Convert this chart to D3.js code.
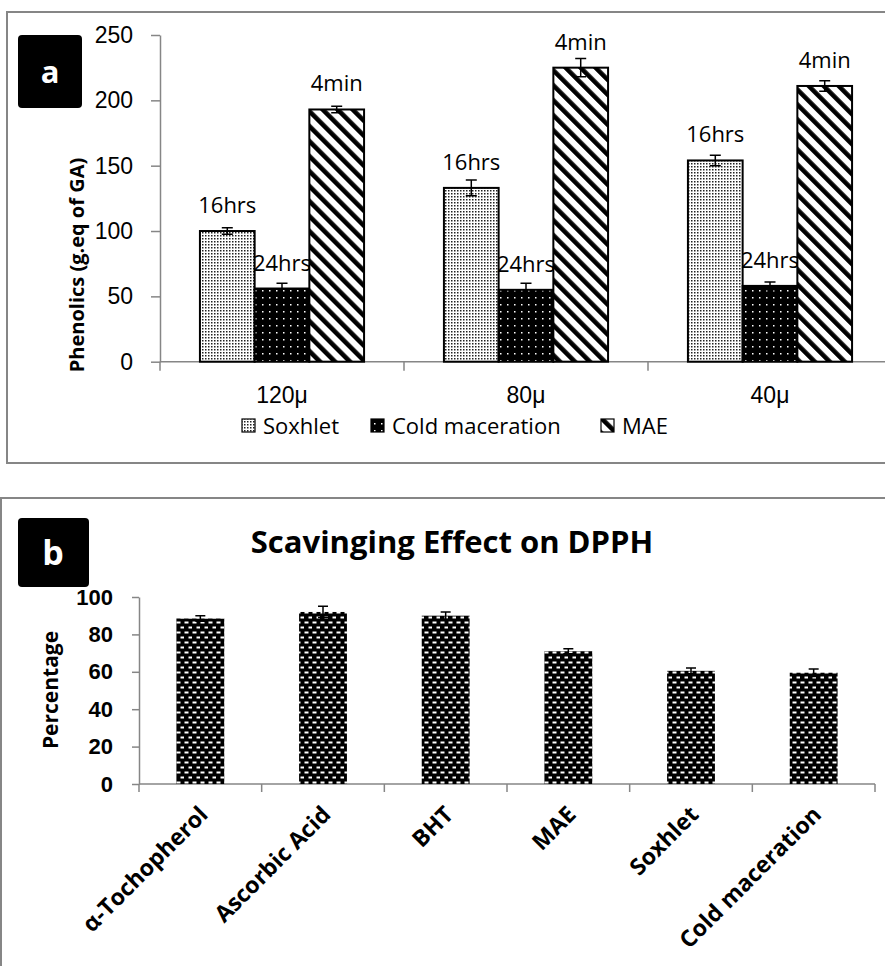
<!DOCTYPE html>
<html>
<head>
<meta charset="utf-8">
<script src="https://cdn.jsdelivr.net/npm/d3@7"></script>
<style>
  body { margin: 0; background: #fff; }
  svg { display: block; font-family: "Open Sans", sans-serif; }
  .axis path, .axis line { stroke: #868686; stroke-width: 1.5; }
  .axis text { fill: #000; }
</style>
</head>
<body>
<div id="chart"></div>
<script>
// panel a data
const sizes = ["120μ", "80μ", "40μ"];
const methods = ["Soxhlet", "Cold maceration", "MAE"];
const durations = ["16hrs", "24hrs", "4min"];
const soxhlet = [100, 133, 154];
const soxhletErr = [2.5, 6, 4];
const cold = [56, 55, 58];
const coldErr = [4, 5, 3];
const mae = [193, 225, 211];
const maeErr = [2.5, 7, 4];
const ticksA = [0, 50, 100, 150, 200, 250];

// panel b data
const agents = ["α-Tochopherol", "Ascorbic Acid", "BHT", "MAE", "Soxhlet", "Cold maceration"];
const scavenging = [88.5, 92, 90, 71, 60.5, 59.5];
const scavErr = [1.5, 3, 2, 1.3, 1.5, 2];
const ticksB = [0, 20, 40, 60, 80, 100];

const width = 885, height = 966;

const svg = d3.select("#chart").append("svg")
    .attr("width", width)
    .attr("height", height);

/* patterns */
const defs = svg.append("defs");

let p = defs.append("pattern").attr("id", "pSox")
    .attr("patternUnits", "userSpaceOnUse").attr("width", 3).attr("height", 3);
p.append("rect").attr("width", 3).attr("height", 3).attr("fill", "#fff");
p.append("rect").attr("x", 1).attr("y", 1).attr("width", 1.5).attr("height", 1.5).attr("fill", "#222");

p = defs.append("pattern").attr("id", "pCold")
    .attr("patternUnits", "userSpaceOnUse").attr("width", 7).attr("height", 7);
p.append("rect").attr("width", 7).attr("height", 7).attr("fill", "#000");
p.append("rect").attr("x", 3).attr("y", 3).attr("width", 1.5).attr("height", 1.5).attr("fill", "#fff");

p = defs.append("pattern").attr("id", "pMae")
    .attr("patternUnits", "userSpaceOnUse").attr("width", 10.6).attr("height", 10.6)
    .attr("patternTransform", "rotate(-45)");
p.append("rect").attr("width", 10.6).attr("height", 10.6).attr("fill", "#fff");
p.append("rect").attr("width", 4.6).attr("height", 10.6).attr("fill", "#000");

p = defs.append("pattern").attr("id", "pBrick")
    .attr("patternUnits", "userSpaceOnUse").attr("width", 8).attr("height", 10);
p.append("rect").attr("width", 8).attr("height", 10).attr("fill", "#000");
p.append("rect").attr("x", 0.5).attr("y", 1.5).attr("width", 4).attr("height", 2).attr("fill", "#fff");
p.append("rect").attr("x", 4.5).attr("y", 6.5).attr("width", 4).attr("height", 2).attr("fill", "#fff");

const fills = ["url(#pSox)", "url(#pCold)", "url(#pMae)"];

/* ---------- panel a ---------- */
svg.append("rect")
    .attr("x", 7).attr("y", 12).attr("width", 900).attr("height", 451)
    .attr("fill", "none").attr("stroke", "#868686").attr("stroke-width", 2);

svg.append("rect")
    .attr("x", 18).attr("y", 35).attr("width", 64).attr("height", 73).attr("rx", 4)
    .attr("fill", "#000");
svg.append("text")
    .attr("x", 50).attr("y", 83)
    .attr("text-anchor", "middle")
    .attr("font-size", 31).attr("font-weight", "bold").attr("fill", "#fff")
    .text("a");

const x0 = d3.scaleBand().domain(sizes).range([160, 892]).paddingInner(0).paddingOuter(0);
const x1 = d3.scaleBand().domain(methods).range([0, x0.bandwidth()]).paddingInner(0).paddingOuter(0.73);
const yA = d3.scaleLinear().domain([0, 250]).range([361.7, 35]);

// y axis
svg.append("g")
    .attr("class", "axis")
    .attr("transform", "translate(160,0)")
    .call(d3.axisLeft(yA).tickValues(ticksA).tickSize(9).tickPadding(18).tickSizeOuter(0))
    .call(g => g.selectAll("text").attr("font-size", 23));

// x axis line and boundary ticks
const xAxisA = svg.append("g").attr("class", "axis");
xAxisA.append("line")
    .attr("x1", 160).attr("x2", 892).attr("y1", yA(0)).attr("y2", yA(0));
xAxisA.selectAll(".bt")
    .data(sizes.map(d => x0(d)).concat([x0.range()[1]]))
    .enter().append("line")
    .attr("x1", d => d).attr("x2", d => d)
    .attr("y1", yA(0)).attr("y2", yA(0) + 9);
svg.append("g")
    .attr("transform", `translate(0,${yA(0)})`)
    .call(d3.axisBottom(x0).tickSize(0).tickPadding(25))
    .call(g => g.select(".domain").remove())
    .call(g => g.selectAll("text").attr("font-size", 23).attr("fill", "#000"));

// y title
svg.append("text")
    .attr("transform", "translate(84,265) rotate(-90)")
    .attr("text-anchor", "middle")
    .attr("font-size", 20).attr("font-weight", "bold")
    .text("Phenolics (g.eq of GA)");

const seriesA = [soxhlet, cold, mae];
const errsA = [soxhletErr, coldErr, maeErr];

seriesA.forEach((vals, s) => {
    const g = svg.append("g");
    const rows = sizes.map((d, i) => ({ size: d, v: vals[i], e: errsA[s][i] }));
    const cx = d => x0(d.size) + x1(methods[s]) + x1.bandwidth() / 2;

    g.selectAll("rect")
        .data(rows)
        .enter().append("rect")
        .attr("x", d => x0(d.size) + x1(methods[s]))
        .attr("y", d => yA(d.v))
        .attr("width", x1.bandwidth())
        .attr("height", d => yA(0) - yA(d.v))
        .attr("fill", fills[s])
        .attr("stroke", "#000").attr("stroke-width", 2);

    // error bars
    g.selectAll(".err")
        .data(rows)
        .enter().append("path")
        .attr("d", d => `M${cx(d)},${yA(d.v - d.e)}V${yA(d.v + d.e)}` +
            `M${cx(d) - 5.5},${yA(d.v + d.e)}H${cx(d) + 5.5}` +
            `M${cx(d) - 5.5},${yA(d.v - d.e)}H${cx(d) + 5.5}`)
        .attr("stroke", "#000").attr("stroke-width", 1.5).attr("fill", "none");

    g.selectAll(".lbl")
        .data(rows)
        .enter().append("text")
        .attr("x", cx)
        .attr("y", d => yA(d.v) - 18)
        .attr("text-anchor", "middle")
        .attr("font-size", 22)
        .text(durations[s]);
});

// legend
const legendX = [242, 371, 601];
const legend = svg.append("g");
methods.forEach((m, i) => {
    legend.append("rect")
        .attr("x", legendX[i]).attr("y", 419).attr("width", 13).attr("height", 13)
        .attr("fill", fills[i]).attr("stroke", "#000").attr("stroke-width", 1.2);
    legend.append("text")
        .attr("x", legendX[i] + 21).attr("y", 434)
        .attr("font-size", 22)
        .text(m);
});

/* ---------- panel b ---------- */
svg.append("rect")
    .attr("x", 1).attr("y", 498).attr("width", 900).attr("height", 500)
    .attr("fill", "none").attr("stroke", "#868686").attr("stroke-width", 2);

svg.append("rect")
    .attr("x", 18).attr("y", 518).attr("width", 71).attr("height", 69).attr("rx", 4)
    .attr("fill", "#000");
svg.append("text")
    .attr("x", 53).attr("y", 565)
    .attr("text-anchor", "middle")
    .attr("font-size", 34).attr("font-weight", "bold").attr("fill", "#fff")
    .text("b");

svg.append("text")
    .attr("x", 452).attr("y", 553)
    .attr("text-anchor", "middle")
    .attr("font-size", 31).attr("font-weight", "bold")
    .text("Scavinging Effect on DPPH");

const xB = d3.scaleBand().domain(agents).range([139, 875]).paddingInner(0.61).paddingOuter(0.305);
const yB = d3.scaleLinear().domain([0, 100]).range([784, 597]);

svg.append("g")
    .attr("class", "axis")
    .attr("transform", "translate(139,0)")
    .call(d3.axisLeft(yB).tickValues(ticksB).tickSize(7).tickPadding(19).tickSizeOuter(0))
    .call(g => g.selectAll("text").attr("font-size", 22).attr("font-weight", "bold"));

const stepB = xB.step();
const xAxisB = svg.append("g").attr("class", "axis");
xAxisB.append("line")
    .attr("x1", 139).attr("x2", 875).attr("y1", yB(0)).attr("y2", yB(0));
xAxisB.selectAll(".bt")
    .data(agents.map(d => xB(d) - stepB * 0.305).concat([875]))
    .enter().append("line")
    .attr("x1", d => d).attr("x2", d => d)
    .attr("y1", yB(0)).attr("y2", yB(0) + 8);

svg.append("text")
    .attr("transform", "translate(58,690) rotate(-90)")
    .attr("text-anchor", "middle")
    .attr("font-size", 21).attr("font-weight", "bold")
    .text("Percentage");

const rowsB = agents.map((d, i) => ({ name: d, v: scavenging[i], e: scavErr[i] }));
const cxB = d => xB(d.name) + xB.bandwidth() / 2;

svg.append("g").selectAll("rect")
    .data(rowsB)
    .enter().append("rect")
    .attr("x", d => xB(d.name))
    .attr("y", d => yB(d.v))
    .attr("width", xB.bandwidth())
    .attr("height", d => yB(0) - yB(d.v))
    .attr("fill", "url(#pBrick)");

svg.append("g").selectAll("path")
    .data(rowsB)
    .enter().append("path")
    .attr("d", d => `M${cxB(d)},${yB(d.v - d.e)}V${yB(d.v + d.e)}` +
        `M${cxB(d) - 5},${yB(d.v + d.e)}H${cxB(d) + 5}` +
        `M${cxB(d) - 5},${yB(d.v - d.e)}H${cxB(d) + 5}`)
    .attr("stroke", "#000").attr("stroke-width", 1.5).attr("fill", "none");

// rotated category labels
svg.append("g").selectAll("text")
    .data(agents)
    .enter().append("text")
    .attr("transform", d => `translate(${xB(d) + xB.bandwidth() / 2 + 9},${yB(0) + 32}) rotate(-45)`)
    .attr("text-anchor", "end")
    .attr("font-size", 23).attr("font-weight", "bold")
    .text(d => d);
</script>
</body>
</html>
